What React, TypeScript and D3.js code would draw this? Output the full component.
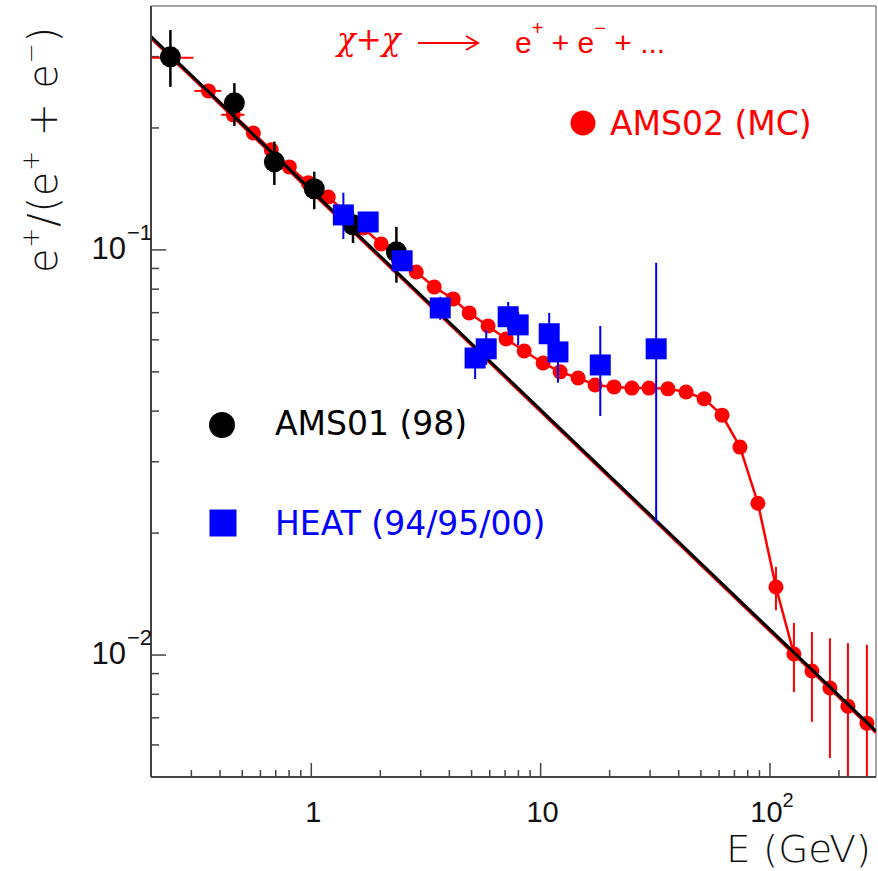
import React, { useEffect } from 'react';
import * as d3 from 'd3';

const W = 878;
const H = 871;

// AMS01 (98) – black circles
const amsE = [0.243, 0.462, 0.69, 1.03, 1.52, 2.35];
const amsV = [0.2996, 0.2307, 0.165, 0.1416, 0.1153, 0.0989];
const amsLo = [0.2526, 0.2023, 0.1446, 0.126, 0.104, 0.083];
const amsHi = [0.349, 0.258, 0.185, 0.156, 0.1234, 0.114];

// HEAT (94/95/00) – blue squares
const heatE = [1.38, 1.77, 2.49, 3.65, 5.18, 5.79, 7.22, 7.98, 10.9, 11.9, 18.2, 31.9];
const heatV = [0.122, 0.1172, 0.094, 0.0719, 0.0541, 0.057, 0.0684, 0.0653, 0.0621, 0.056, 0.052, 0.057];
const heatLo = [0.1064, 0.111, 0.089, 0.0672, 0.048, 0.052, 0.0634, 0.0582, 0.056, 0.047, 0.0389, 0.0212];
const heatHi = [0.1384, 0.124, 0.099, 0.0766, 0.0566, 0.0634, 0.0744, 0.0703, 0.0699, 0.0619, 0.0649, 0.0929];

// AMS02 (MC) – red circles
const mcE = [0.243, 0.356, 0.457, 0.559, 0.669, 0.802, 0.97, 1.186, 1.421, 1.685, 2.018, 2.393, 2.868,
  3.436, 4.157, 4.88, 5.9, 7.07, 8.48, 10.25, 12.16, 14.57, 17.28, 20.9, 25.0, 29.7, 35.9, 43.1, 51.6,
  61.8, 74.0, 88.6, 106.2, 127.2, 152.4, 182.6, 218.8, 264.7];
const mcV = [0.2979, 0.2469, 0.2155, 0.1944, 0.1766, 0.1603, 0.1464, 0.1351, 0.1234, 0.1133, 0.1034,
  0.095, 0.0882, 0.081, 0.0757, 0.0699, 0.0649, 0.0603, 0.0563, 0.0526, 0.05, 0.0483, 0.0464, 0.0459,
  0.0456, 0.0456, 0.0454, 0.0446, 0.0429, 0.0391, 0.0326, 0.0237, 0.01472, 0.01006, 0.00913, 0.00829,
  0.00748, 0.00679];
// visible vertical error bars (tail of the MC spectrum)
const mcErrE = [106.2, 127.2, 152.4, 182.6, 218.8, 264.7];
const mcErrLo = [0.0129, 0.0081, 0.00684, 0.00557, 0.003, 0.003];
const mcErrHi = [0.0165, 0.012, 0.0114, 0.011, 0.0107, 0.0106];
// visible horizontal (bin width) error bars at low energy
const mcBinV = [0.2979, 0.2469, 0.2155];
const mcBinLo = [0.2, 0.309, 0.405];
const mcBinHi = [0.306, 0.405, 0.511];

// background power-law fit (end points)
const fitE = [0.2, 290];
const fitV = [0.336, 0.00649];

const xMajor = [1, 10, 100];
const xMinor = [0.3, 0.4, 0.5, 0.6, 0.7, 0.8, 0.9, 2, 3, 4, 5, 6, 7, 8, 9, 20, 30, 40, 50, 60, 70, 80, 90, 200];
const yMajor = [0.01, 0.1];
const yMinor = [0.006, 0.007, 0.008, 0.009, 0.02, 0.03, 0.04, 0.05, 0.06, 0.07, 0.08, 0.09, 0.2, 0.3];
const xLabels = ['1', '10', '10'];
const xLabelSup = ['', '', '2'];
const yLabelSup = ['\u22122', '\u22121'];

const RED = '#ff0000';
const BLUE = '#0000ff';
const SANS = 'Liberation Sans, Arial, sans-serif';
const LEG = 'DejaVu Sans, Verdana, sans-serif';

export default function App() {
  useEffect(() => {
    document.body.style.margin = '0';
  }, []);

  const L = 151, R = 876, T = 6, B = 777;
  const x = d3.scaleLog().domain([0.2, 290]).range([L, R]);
  const y = d3.scaleLog().domain([0.005, 0.4]).range([B, T]);

  const fitLine = d3.line<number>().x((_, i) => x(fitE[i])).y((_, i) => y(fitV[i]))(fitE) || '';
  const mcLine = d3.line<number>().x((_, i) => x(mcE[i])).y((_, i) => y(mcV[i]))(mcE) || '';

  return (
    <svg width={W} height={H} style={{ display: 'block', position: 'absolute', left: 0, top: 0, background: '#fff' }}>
      <defs>
        <clipPath id="plot">
          <rect x={L} y={T} width={R - L} height={B - T} />
        </clipPath>
      </defs>
      <rect x={0} y={0} width={W} height={H} fill="#fff" />

      {/* frame */}
      <line x1={L} y1={T} x2={R} y2={T} stroke="#888" strokeWidth={1.5} />
      <line x1={R} y1={T} x2={R} y2={B} stroke="#888" strokeWidth={1.5} />

      {/* ticks */}
      {xMajor.map((v, i) => (
        <line key={'xM' + i} x1={x(v)} x2={x(v)} y1={B} y2={B - 14} stroke="#444" strokeWidth={1.5} />
      ))}
      {xMinor.map((v, i) => (
        <line key={'xm' + i} x1={x(v)} x2={x(v)} y1={B} y2={B - 7} stroke="#444" strokeWidth={1.5} />
      ))}
      {yMajor.map((v, i) => (
        <line key={'yM' + i} x1={L} x2={L + 15} y1={y(v)} y2={y(v)} stroke="#444" strokeWidth={1.5} />
      ))}
      {yMinor.map((v, i) => (
        <line key={'ym' + i} x1={L} x2={L + 8} y1={y(v)} y2={y(v)} stroke="#444" strokeWidth={1.5} />
      ))}

      <g clipPath="url(#plot)">
        {/* MC red curve */}
        <path d={mcLine} fill="none" stroke={RED} strokeWidth={2.5} />
        {mcBinV.map((v, i) => (
          <line key={'hb' + i} x1={x(mcBinLo[i])} x2={x(mcBinHi[i])} y1={y(v)} y2={y(v)} stroke={RED} strokeWidth={2} />
        ))}
        {mcErrE.map((e, i) => (
          <line key={'eb' + i} x1={x(e)} x2={x(e)} y1={y(mcErrLo[i])} y2={y(mcErrHi[i])} stroke={RED} strokeWidth={2} />
        ))}
        {mcE.map((e, i) => (
          <circle key={'mc' + i} cx={x(e)} cy={y(mcV[i])} r={7.5} fill={RED} />
        ))}

        {/* fit line */}
        <path d={fitLine} fill="none" stroke={RED} strokeWidth={3} transform="translate(0,1.5)" />
        <path d={fitLine} fill="none" stroke="#000" strokeWidth={3} />

        {/* AMS01 */}
        {amsE.map((e, i) => (
          <line key={'ab' + i} x1={x(e)} x2={x(e)} y1={y(amsLo[i])} y2={y(amsHi[i])} stroke="#000" strokeWidth={2.5} />
        ))}
        {amsE.map((e, i) => (
          <circle key={'am' + i} cx={x(e)} cy={y(amsV[i])} r={10.5} fill="#000" />
        ))}

        {/* HEAT */}
        {heatE.map((e, i) => (
          <line key={'hb2' + i} x1={x(e)} x2={x(e)} y1={y(heatLo[i])} y2={y(heatHi[i])} stroke={BLUE} strokeWidth={2} />
        ))}
        {heatE.map((e, i) => (
          <rect key={'ht' + i} x={x(e) - 10.5} y={y(heatV[i]) - 10.5} width={21} height={21} fill={BLUE} />
        ))}
      </g>

      {/* axes */}
      <line x1={L} y1={T} x2={L} y2={B} stroke="#444" strokeWidth={2} />
      <line x1={L} y1={B} x2={R} y2={B} stroke="#444" strokeWidth={2} />

      {/* x tick labels */}
      {xMajor.map((v, i) => (
        <text key={'xl' + i} x={x(v) + 2} y={822} fontFamily={SANS} fontSize={29} textAnchor="middle" fill="#111">
          {xLabels[i]}
          {xLabelSup[i] ? <tspan dy={-15} fontSize={20}>{xLabelSup[i]}</tspan> : null}
        </text>
      ))}

      {/* y tick labels */}
      {yMajor.map((v, i) => (
        <g key={'yl' + i}>
          <text x={126} y={y(v) + 9} fontFamily={SANS} fontSize={31} textAnchor="end" fill="#111">10</text>
          <text x={127} y={y(v) - 10} fontFamily={SANS} fontSize={22} textAnchor="start" fill="#111">{yLabelSup[i]}</text>
        </g>
      ))}

      {/* axis titles */}
      <text x={726} y={862} fontFamily="DejaVu Sans, sans-serif" fontWeight={200} fontSize={38} textLength={145} lengthAdjust="spacingAndGlyphs" fill="#111">E (GeV)</text>
      <text transform="translate(57,273) rotate(-90)" fontFamily="DejaVu Sans, sans-serif" fontWeight={200} fontSize={40} textLength={246} lengthAdjust="spacing" fill="#111">
        e<tspan dy={-18} fontSize={24}>+</tspan><tspan dy={18}>/(e</tspan><tspan dy={-18} fontSize={24}>+</tspan><tspan dy={18}> + e</tspan><tspan dy={-18} fontSize={24}>{'\u2212'}</tspan><tspan dy={18}>)</tspan>
      </text>

      {/* reaction text */}
      <text x={337} y={50} fontFamily="DejaVu Serif, Liberation Serif, serif" fontStyle="italic" fontSize={31} fill={RED}>{'\u03c7+\u03c7'}</text>
      <path d="M418,43 L478,43 M466,36 L478,43 L466,50" fill="none" stroke={RED} strokeWidth={2} />
      <text x={515} y={53} fontFamily={SANS} fontSize={30} fill={RED}>
        e<tspan dy={-18} fontSize={20}>+</tspan><tspan dy={18}> + e</tspan><tspan dy={-18} fontSize={20}>{'\u2212'}</tspan><tspan dy={18}> + ...</tspan>
      </text>

      {/* legends */}
      <circle cx={583} cy={123} r={12.5} fill={RED} />
      <text x={610} y={135} fontFamily={LEG} fontSize={33} fill={RED}>AMS02 (MC)</text>
      <circle cx={222} cy={425} r={13} fill="#000" />
      <text x={275} y={435} fontFamily={LEG} fontSize={33} fill="#000">AMS01 (98)</text>
      <rect x={223 - 13.5} y={523 - 13.5} width={27} height={27} fill={BLUE} />
      <text x={275} y={535} fontFamily={LEG} fontSize={33} fill={BLUE}>HEAT (94/95/00)</text>
    </svg>
  );
}
